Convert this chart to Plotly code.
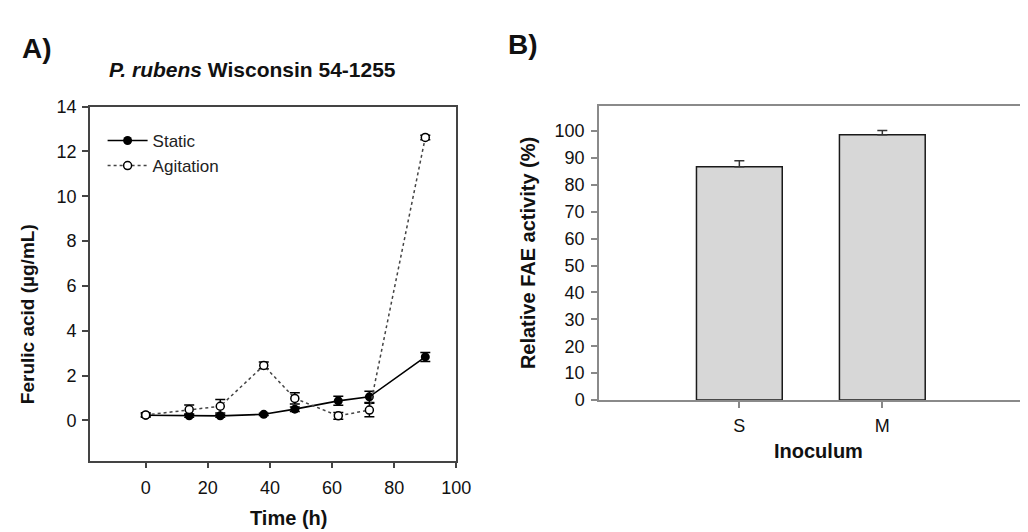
import plotly.graph_objects as go

W, H = 1028, 532
FONT = "Liberation Sans, Arial, sans-serif"

# Panel A data
time_h = [0, 14, 24, 38, 48, 62, 72, 90]
static_vals = [0.23, 0.2, 0.2, 0.27, 0.5, 0.87, 1.05, 2.83]
static_err = [0.05, 0.06, 0.06, 0.05, 0.1, 0.2, 0.25, 0.2]
agit_vals = [0.24, 0.48, 0.63, 2.45, 0.98, 0.2, 0.46, 12.62]
agit_err = [0.1, 0.2, 0.3, 0.15, 0.25, 0.15, 0.3, 0.1]
a_xticks = [0, 20, 40, 60, 80, 100]
a_yticks = [0, 2, 4, 6, 8, 10, 12, 14]

# Panel B data
inoculum = ["S", "M"]
fae_vals = [86.8, 98.7]
fae_err = [2.2, 1.5]
b_yticks = list(range(0, 101, 10))

def px(x):
    return x / W

def py(y):
    return 1 - y / H

fig = go.Figure()

fig.add_trace(go.Scatter(
    x=time_h, y=static_vals, name="Static", mode="lines+markers",
    line=dict(color="black", width=1.6),
    marker=dict(symbol="circle", size=9, color="black"),
    error_y=dict(type="data", array=static_err, color="black", thickness=1.5, width=5),
    xaxis="x", yaxis="y",
))
fig.add_trace(go.Scatter(
    x=time_h, y=agit_vals, name="Agitation", mode="lines+markers",
    line=dict(color="#444", width=1.5, dash="3px,3px"),
    marker=dict(symbol="circle", size=8, color="white", line=dict(color="black", width=1.5)),
    error_y=dict(type="data", array=agit_err, color="black", thickness=1.5, width=5),
    xaxis="x", yaxis="y",
))

fig.add_trace(go.Bar(
    x=inoculum, y=fae_vals, width=0.6, showlegend=False,
    marker=dict(color="#d7d7d7", line=dict(color="#1a1a1a", width=1.5)),
    error_y=dict(type="data", symmetric=False, array=fae_err, arrayminus=[0, 0],
                 color="#333", thickness=1.5, width=5),
    xaxis="x2", yaxis="y2",
))

tickfont = dict(family=FONT, size=18, color="#111")

fig.update_layout(
    width=W, height=H, autosize=False,
    margin=dict(l=0, r=0, t=0, b=0),
    paper_bgcolor="white", plot_bgcolor="white",
    font=dict(family=FONT, color="#111"),
    xaxis=dict(
        domain=[px(83), px(455)], range=[-18, 100],
        tickvals=a_xticks, ticks="outside", ticklen=6, tickwidth=1.5, tickcolor="#444",
        showline=True, linecolor="#444", linewidth=1.5, mirror=True,
        showgrid=False, zeroline=False, tickfont=tickfont, ticklabelstandoff=4,
        anchor="y",
    ),
    yaxis=dict(
        domain=[py(460), py(92)], range=[-1.8, 14],
        tickvals=a_yticks, ticks="outside", ticklen=6, tickwidth=1.5, tickcolor="#444",
        showline=True, linecolor="#444", linewidth=1.5, mirror=True,
        showgrid=False, zeroline=False, tickfont=tickfont, ticklabelstandoff=2,
        anchor="x",
    ),
    xaxis2=dict(
        domain=[px(600), 1.0], range=[-0.98, 1.97], type="category",
        ticks="outside", ticklen=6, tickwidth=1.5, tickcolor="#888",
        showline=True, linecolor="#8a8a8a", linewidth=2, mirror=True,
        showgrid=False, zeroline=False, tickfont=tickfont, ticklabelstandoff=2,
        anchor="y2",
    ),
    yaxis2=dict(
        domain=[py(397), py(91)], range=[0, 109.5],
        tickvals=b_yticks, ticks="outside", ticklen=6, tickwidth=1.5, tickcolor="#888",
        showline=True, linecolor="#8a8a8a", linewidth=2, mirror=False,
        showgrid=False, zeroline=False, tickfont=tickfont, ticklabelstandoff=3,
        anchor="x2",
    ),
    legend=dict(
        x=px(96), y=py(109), xanchor="left", yanchor="top",
        bgcolor="rgba(0,0,0,0)", borderwidth=0,
        font=dict(family=FONT, size=17, color="#222"),
        tracegroupgap=0, itemwidth=40,
    ),
    showlegend=True,
)

ann = [
    dict(text="<b>A)</b>", x=px(12), y=py(32), xanchor="left", yanchor="middle", font=dict(size=28)),
    dict(text="<b>B)</b>", x=px(505), y=py(28), xanchor="left", yanchor="middle", font=dict(size=28)),
    dict(text="<b><i>P. rubens</i> Wisconsin 54-1255</b>", x=px(100), y=py(53),
         xanchor="left", yanchor="middle", font=dict(size=21)),
    dict(text="<b>Ferulic acid (µg/mL)</b>", x=px(20), y=py(308), textangle=-90,
         xanchor="center", yanchor="middle", font=dict(size=19)),
    dict(text="<b>Time (h)</b>", x=px(285), y=py(520), xanchor="center", yanchor="middle",
         font=dict(size=20)),
    dict(text="<b>Relative FAE activity (%)</b>", x=px(528), y=py(244), textangle=-90,
         xanchor="center", yanchor="middle", font=dict(size=20)),
    dict(text="<b>Inoculum</b>", x=px(823), y=py(450), xanchor="center", yanchor="middle",
         font=dict(size=20)),
]
for a in ann:
    a.update(xref="paper", yref="paper", showarrow=False)
    a["font"].update(family=FONT, color="#111")
fig.update_layout(annotations=ann)

fig.write_html("out.html")
